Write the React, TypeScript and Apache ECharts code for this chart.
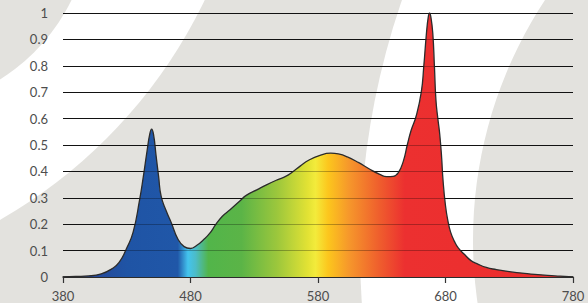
import React, { useEffect, useRef } from "react";
import * as echarts from "echarts";

const wavelengths = [
  380, 390, 400, 410, 418, 424, 430, 435, 440, 443, 446, 448, 449.5, 451, 453, 455, 457, 461, 465, 470,
  475, 480, 485, 490, 495, 500, 505, 511, 518, 524, 532, 540, 548, 555, 560, 566, 573, 581, 590, 596,
  603, 612, 620, 628, 634, 639, 643, 647, 650, 653, 657, 661, 663, 665, 666.5, 667.5, 668.5, 670, 671.3, 672.5,
  674, 675.5, 677, 678, 680, 682, 684, 687, 690, 695, 700, 705, 712, 720, 730, 740, 750, 760, 770, 780,
];
const intensity = [
  0, 0.002, 0.004, 0.012, 0.03, 0.055, 0.11, 0.17, 0.29, 0.38, 0.48, 0.54, 0.56, 0.54, 0.46, 0.38, 0.305, 0.25, 0.205, 0.145,
  0.115, 0.108, 0.12, 0.14, 0.165, 0.2, 0.23, 0.255, 0.285, 0.31, 0.33, 0.35, 0.368, 0.382, 0.398, 0.42, 0.443, 0.46, 0.469, 0.466,
  0.455, 0.433, 0.41, 0.39, 0.38, 0.381, 0.395, 0.44, 0.5, 0.555, 0.61, 0.7, 0.8, 0.92, 0.985, 1.0, 0.985, 0.925, 0.8, 0.67,
  0.6, 0.54, 0.45, 0.37, 0.27, 0.21, 0.17, 0.135, 0.11, 0.085, 0.062, 0.05, 0.036, 0.028, 0.02, 0.015, 0.01, 0.006, 0.003, 0,
];
const yTicks = [0.1, 0.2, 0.3, 0.4, 0.5, 0.6, 0.7, 0.8, 0.9, 1];

// spectrum colour stops: [wavelength, colour]
const spectrumStops: [number, string][] = [
  [380, "#2c3d8e"],
  [430, "#1f54a5"],
  [470, "#2057a8"],
  [478, "#43c4ee"],
  [484, "#4cbcc8"],
  [494, "#52b54a"],
  [520, "#5bb447"],
  [548, "#9cc73c"],
  [572, "#e2e234"],
  [578, "#f3eb3b"],
  [588, "#fcc61d"],
  [604, "#f6982b"],
  [628, "#ef5e2d"],
  [648, "#ec3030"],
  [780, "#ec2d2d"],
];

const GRAY = "#e3e2de";
const LABEL = "#4d4d4d";

export default function App() {
  const ref = useRef<HTMLDivElement>(null);
  useEffect(() => {
    if (!ref.current) return;
    const chart = echarts.init(ref.current, null, { renderer: "svg" });
    const data = wavelengths.map((w, i) => [w, intensity[i]]);
    const wMin = 380;
    const wMax = 780;
    chart.setOption({
      animation: false,
      backgroundColor: "#ffffff",
      graphic: {
        elements: [
          { type: "rect", z: -10, silent: true, shape: { x: 0, y: 0, width: 588, height: 303 }, style: { fill: GRAY } },
          { type: "circle", z: -9, silent: true, shape: { cx: -252, cy: -220, r: 507 }, style: { fill: "#ffffff" } },
          { type: "circle", z: -8, silent: true, shape: { cx: -104, cy: -86, r: 195.5 }, style: { fill: GRAY } },
          { type: "circle", z: -9, silent: true, shape: { cx: 1125, cy: 250, r: 765 }, style: { fill: "#ffffff" } },
          { type: "circle", z: -8, silent: true, shape: { cx: 909, cy: 240, r: 436 }, style: { fill: GRAY } },
        ],
      },
      grid: { left: 63, right: 15, top: 13, bottom: 26, containLabel: false },
      xAxis: {
        type: "value",
        min: wMin,
        max: wMax,
        interval: 100,
        axisLine: { show: true, onZero: false, lineStyle: { color: "#333333", width: 1.5 } },
        axisTick: { show: true, length: 6, lineStyle: { color: "#333333", width: 1.2 } },
        splitLine: { show: false },
        axisLabel: {
          color: LABEL,
          fontFamily: "Lato",
          fontSize: 13,
          margin: 12,
        },
      },
      yAxis: {
        type: "value",
        min: 0,
        max: 1,
        interval: 0.1,
        axisLine: { show: false },
        axisTick: { show: false },
        splitLine: { show: true, lineStyle: { color: "#1a1a1a", width: 1 } },
        axisLabel: {
          color: LABEL,
          fontFamily: "Lato",
          fontSize: 13,
          margin: 15,
          formatter: (v: number) => String(Math.round(v * 10) / 10),
        },
      },
      series: [
        {
          type: "line",
          data,
          smooth: 0.5,
          symbol: "none",
          lineStyle: { color: "#2b2b2b", width: 1.3 },
          areaStyle: {
            opacity: 1,
            color: new echarts.graphic.LinearGradient(
              0,
              0,
              1,
              0,
              spectrumStops.map(([w, c]) => ({ offset: (w - wMin) / (wMax - wMin), color: c }))
            ),
          },
          markLine: {
            silent: true,
            symbol: "none",
            label: { show: false },
            lineStyle: { color: "rgba(0,0,0,0.28)", width: 1, type: "solid" },
            data: yTicks.map((y) => ({ yAxis: y })),
          },
        },
      ],
    });
    return () => chart.dispose();
  }, []);
  return (
    <div
      ref={ref}
      style={{ position: "absolute", left: 0, top: 0, width: 588, height: 303 }}
    />
  );
}
